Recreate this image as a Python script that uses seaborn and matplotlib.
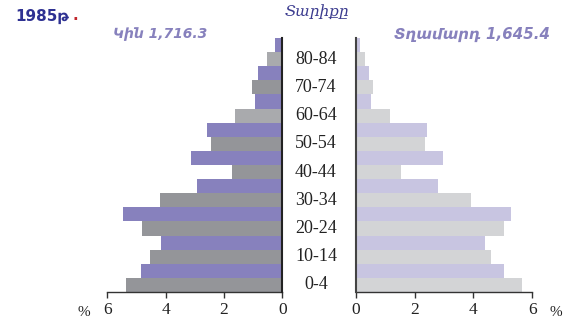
import numpy as np
import pandas as pd
import matplotlib
matplotlib.use('Agg')
import matplotlib.pyplot as plt
import matplotlib.transforms as mtransforms
import seaborn as sns

# age groups, top to bottom
ages = ['85+', '80-84', '75-79', '70-74', '65-69', '60-64', '55-59', '50-54', '45-49',
        '40-44', '35-39', '30-34', '25-29', '20-24', '15-19', '10-14', '5-9', '0-4']
women = [0.25, 0.52, 0.83, 1.04, 0.93, 1.62, 2.58, 2.44, 3.13,
         1.72, 2.92, 4.19, 5.46, 4.80, 4.15, 4.53, 4.84, 5.35]
men = [0.15, 0.32, 0.45, 0.59, 0.52, 1.17, 2.43, 2.36, 2.97,
       1.54, 2.80, 3.92, 5.28, 5.04, 4.40, 4.60, 5.04, 5.66]
shown_ages = ['80-84', '70-74', '60-64', '50-54', '40-44', '30-34', '20-24', '10-14', '0-4']
ticks = [0, 2, 4, 6]

title = '1985թ'
axis_title = 'Տարիքը'
women_label = 'Կին 1,716.3'
men_label = 'Տղամարդ 1,645.4'

df = pd.DataFrame({'age': ages, 'women': women, 'men': men})

purple = '#8781bd'
gray = '#949599'
gray_lt = '#a9aaad'
left_colors = []
right_colors = []
for i, a in enumerate(ages):
    if i % 2 == 0:
        left_colors.append(purple)
        right_colors.append('#c8c5e1')
    else:
        left_colors.append(gray_lt if a in ('80-84', '60-64') else gray)
        right_colors.append('#d3d4d6')

sns.set_style('white')
fig = plt.figure(figsize=(5.73, 3.19), dpi=100)
ax_l = fig.add_axes([0.1873, 0.0846, 0.3054, 0.7962])
ax_r = fig.add_axes([0.6208, 0.0846, 0.3082, 0.7962])

sns.barplot(data=df, x='women', y='age', hue='age', palette=left_colors, order=ages,
            hue_order=ages, width=1.0, legend=False, ax=ax_l, saturation=1, linewidth=0)
sns.barplot(data=df, x='men', y='age', hue='age', palette=right_colors, order=ages,
            hue_order=ages, width=1.0, legend=False, ax=ax_r, saturation=1, linewidth=0)

serif = ['Liberation Serif', 'DejaVu Serif']

ax_l.set_xlim(6, 0)
ax_r.set_xlim(0, 6)
for ax in (ax_l, ax_r):
    ax.set_ylim(len(ages) - 0.5, -0.5)
    ax.set_xticks(ticks)
    ax.set_xticklabels([str(t) for t in ticks], fontfamily=serif, fontsize=12.5, color='#222222')
    ax.set_yticks([])
    ax.set_xlabel('')
    ax.set_ylabel('')
    ax.tick_params(axis='x', direction='out', length=4, width=1, color='#333333', pad=3, bottom=True)
    for s in ax.spines.values():
        s.set_visible(False)
    ax.spines['bottom'].set_visible(True)
    ax.spines['bottom'].set_color('#333333')
    ax.spines['bottom'].set_linewidth(1)

ax_l.spines['right'].set_visible(True)
ax_l.spines['right'].set_color('#222222')
ax_l.spines['right'].set_linewidth(1.5)
ax_l.spines['right'].set_zorder(5)
ax_r.spines['left'].set_visible(True)
ax_r.spines['left'].set_color('#444444')
ax_r.spines['left'].set_linewidth(1.5)
ax_r.spines['left'].set_zorder(5)

# age labels in the gap
trans = mtransforms.blended_transform_factory(ax_r.transAxes, ax_r.transData)
for a in shown_ages:
    ax_r.text(-0.225, ages.index(a), a, transform=trans, ha='center', va='center',
              fontfamily=serif, fontsize=13, color='#222222')

fig.text(84 / 573, 1 - 312 / 319, '%', ha='center', va='center', fontfamily=serif, fontsize=11, color='#222222')
fig.text(556 / 573, 1 - 312 / 319, '%', ha='center', va='center', fontfamily=serif, fontsize=11, color='#222222')

t = fig.text(15 / 573, 1 - 16 / 319, title, ha='left', va='center', fontweight='bold',
             fontfamily='DejaVu Sans', fontsize=11, color='#2e3192')
fig.canvas.draw()
bb = t.get_window_extent(fig.canvas.get_renderer())
fig.text((bb.x1 + 3.5) / fig.bbox.width, 1 - 16 / 319, '.', ha='left', va='center', fontweight='bold',
         fontfamily='DejaVu Sans', fontsize=11, color='#c1272d')

fig.text(317 / 573, 1 - 12 / 319, axis_title, ha='center', va='center', fontstyle='italic',
         fontfamily=['DejaVu Serif', 'DejaVu Sans'], fontsize=11, color='#3b3b8f')
fig.text(160 / 573, 1 - 34 / 319, women_label, ha='center', va='center', fontstyle='italic',
         fontweight='bold', fontfamily=['DejaVu Sans'], fontsize=10, color='#8781bd')
fig.text(472 / 573, 1 - 34 / 319, men_label, ha='center', va='center', fontstyle='italic',
         fontweight='bold', fontfamily=['DejaVu Sans'], fontsize=10.8, color='#8781bd')

fig.savefig('out.png', dpi=100)
